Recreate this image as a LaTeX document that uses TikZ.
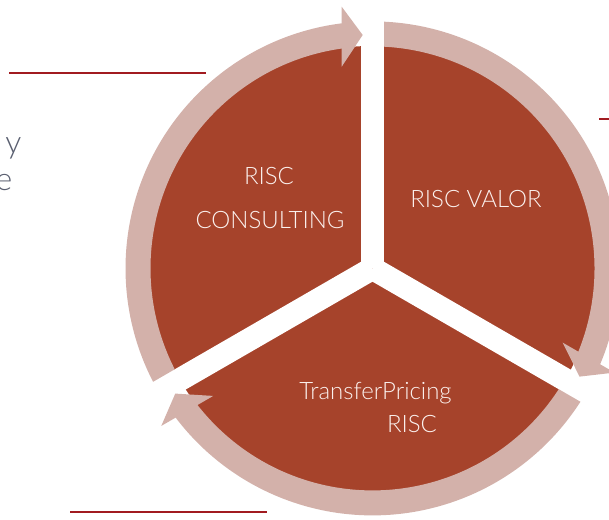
\documentclass[tikz,border=0pt]{standalone}
\usepackage{fontspec}
\setmainfont{Lato Light}
\definecolor{pie}{HTML}{A6432B}
\definecolor{ring}{HTML}{D3B1AA}
\definecolor{rulered}{HTML}{A11B20}
\definecolor{sidetext}{HTML}{5A5F70}
\definecolor{intext}{HTML}{FBF1EE}
\tikzset{
  piefill/.style={fill=pie},
  ringfill/.style={fill=ring},
  gapline/.style={draw=white, line width=23pt},
  rulerline/.style={draw=rulered, line width=2pt},
  intxt/.style={text=intext, font=\fontsize{24}{28}\selectfont, inner sep=0pt},
  sidetxt/.style={text=sidetext, font=\fontsize{32}{36}\selectfont, inner sep=0pt}
}
\begin{document}
\begin{tikzpicture}[x=1pt,y=1pt]
\useasboundingbox (0,0) rectangle (609,-519);
% decorative rules
\draw[rulerline] (9.3,-73.3) -- (206,-73.3);
\draw[rulerline] (70,-511.7) -- (267,-511.7);
\draw[rulerline] (599,-119) -- (609,-119);
% cut side text
\node[sidetxt, anchor=base east] (ty) at (21.5,-153.5) {y};
\node[sidetxt, anchor=base east] (te) at (12.5,-190) {e};
% pie with gaps and arrows
\begin{scope}[shift={(372.5,-268.4)}]
  \fill[piefill] (0,0) circle[radius=222.5pt];
  \draw[gapline] (0,0) -- (90:230pt);
  \draw[gapline] (0,0) -- (210:230pt);
  \draw[gapline] (0,0) -- (330:230pt);
  \foreach \r in {0,-120,120}{
    \begin{scope}[rotate=\r]
      \fill[ringfill] (207.33:247pt) arc[start angle=207.33, end angle=96, radius=247pt]
        -- (96:222pt) arc[start angle=96, end angle=207.03, radius=222pt] -- cycle;
      \fill[ringfill] (-30.8pt,261.7pt) -- (-9.8pt,233.4pt) -- (-30.8pt,201.7pt) -- cycle;
    \end{scope}
  }
\end{scope}
% labels
\node[intxt, anchor=base] (c1) at (269,-184.5) {RISC};
\node[intxt, anchor=base] (c2) at (270,-228.5) {CONSULTING};
\node[intxt, anchor=base] (v1) at (476,-207.5) {RISC VALOR};
\node[intxt, anchor=base] (t1) at (375.5,-399.5) {TransferPricing};
\node[intxt, anchor=base] (t2) at (412,-432.5) {RISC};
\end{tikzpicture}
\end{document}
